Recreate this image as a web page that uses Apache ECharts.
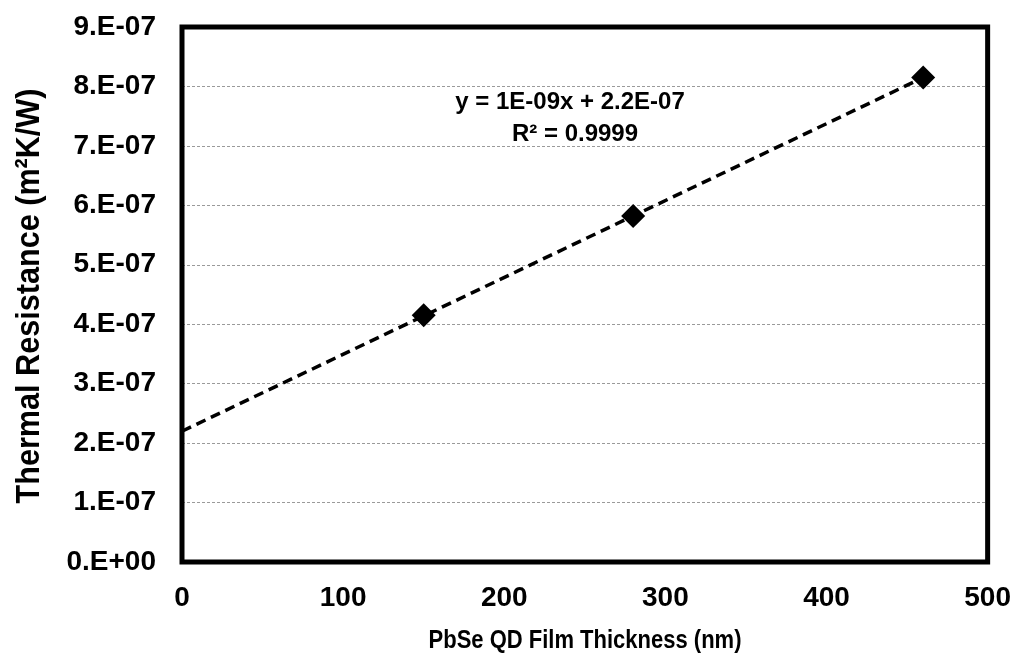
<!DOCTYPE html>
<html>
<head>
<meta charset="utf-8">
<script src="https://cdn.jsdelivr.net/npm/echarts@6/dist/echarts.min.js"></script>
<style>
    html, body { margin: 0; padding: 0; background: #fff; }
    #main { width: 1014px; height: 663px; }
</style>
</head>
<body>
<div id="main"></div>
<script>
// measured points
let thickness = [150, 280, 460]
let resistance = [4.15e-7, 5.82e-7, 8.15e-7]

// linear trendline endpoints, as drawn
let trendX = [0, 460]
let trendY = [2.2e-7, 8.15e-7]

let yTickLabels = ['0.E+00', '1.E-07', '2.E-07', '3.E-07', '4.E-07', '5.E-07', '6.E-07', '7.E-07', '8.E-07', '9.E-07']
let xTickLabels = ['0', '100', '200', '300', '400', '500']

let fontFamily = '"Liberation Sans", Arial, sans-serif'

let chart = echarts.init(document.getElementById('main'))

let option = {
    animation: false,
    backgroundColor: '#fff',
    textStyle: { fontFamily: fontFamily },
    grid: {
        left: 182,
        right: 25,
        top: 27,
        bottom: 101,
        show: true,
        borderColor: '#000',
        borderWidth: 5,
        z: 3
    },
    xAxis: {
        type: 'value',
        min: 0,
        max: 500,
        interval: 100,
        axisLine: { show: false },
        axisTick: { show: false },
        splitLine: { show: false },
        axisLabel: {
            margin: 22,
            fontSize: 28,
            fontWeight: 'bold',
            color: '#000',
            formatter: function (v) {
                return xTickLabels[Math.round(v / 100)]
            }
        }
    },
    yAxis: {
        type: 'value',
        min: 0,
        max: 9e-7,
        interval: 1e-7,
        axisLine: { show: false },
        axisTick: { show: false },
        splitLine: {
            show: true,
            lineStyle: { color: '#9a9a9a', width: 1, type: [3, 2] }
        },
        axisLabel: {
            margin: 26,
            fontSize: 28,
            fontWeight: 'bold',
            color: '#000',
            formatter: function (v) {
                return yTickLabels[Math.round(v * 1e7)]
            }
        }
    },
    graphic: [
        {
            // y axis title, a bit condensed like the original
            type: 'text',
            x: 30,
            y: 296,
            rotation: Math.PI / 2,
            scaleX: 0.9,
            style: {
                text: 'Thermal Resistance (m²K/W)',
                fill: '#000',
                font: 'bold 34px ' + fontFamily,
                align: 'center',
                verticalAlign: 'middle'
            }
        },
        {
            type: 'text',
            x: 585,
            y: 641,
            scaleX: 0.88,
            style: {
                text: 'PbSe QD Film Thickness (nm)',
                fill: '#000',
                font: 'bold 25px ' + fontFamily,
                align: 'center',
                verticalAlign: 'middle'
            }
        },
        {
            type: 'text',
            x: 570,
            y: 102,
            style: {
                text: 'y = 1E-09x + 2.2E-07',
                fill: '#000',
                font: 'bold 24px ' + fontFamily,
                align: 'center',
                verticalAlign: 'middle'
            }
        },
        {
            type: 'text',
            x: 575,
            y: 134,
            style: {
                text: 'R² = 0.9999',
                fill: '#000',
                font: 'bold 24px ' + fontFamily,
                align: 'center',
                verticalAlign: 'middle'
            }
        }
    ],
    series: [
        {
            type: 'line',
            data: trendX.map(function (x, i) { return [x, trendY[i]] }),
            symbol: 'none',
            silent: true,
            z: 2,
            lineStyle: { color: '#000', width: 3.5, type: [10, 6] }
        },
        {
            type: 'scatter',
            data: thickness.map(function (x, i) { return [x, resistance[i]] }),
            symbol: 'rect',
            symbolRotate: 45,
            symbolSize: 17,
            z: 4,
            itemStyle: { color: '#000', opacity: 1 }
        }
    ]
}

chart.setOption(option)
</script>
</body>
</html>
